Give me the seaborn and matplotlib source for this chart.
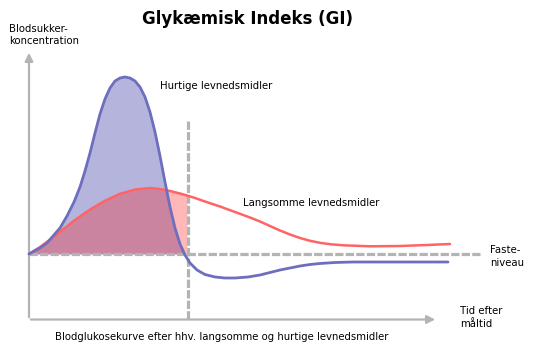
import matplotlib.pyplot as plt
import numpy as np
import seaborn as sns
import pandas as pd

# time after meal (px from y axis) and blood sugar relative to fasting level
base_x = 29
base_y = 254

hurtig_x = [29, 40, 47, 53, 60, 67, 74, 80, 85, 90, 95, 100, 105, 110, 115, 120,
            125, 130, 135, 140, 145, 150, 155, 160, 165, 170, 175, 180, 185, 190,
            197, 205, 215, 225, 235, 248, 260, 270, 280, 290, 300, 310, 320, 335, 353, 393, 448]
hurtig_py = [254, 248, 243, 236, 228, 216, 202, 187, 171, 153, 133, 114, 99, 88, 81, 78,
             77, 78, 81, 87, 97, 112, 132, 156, 182, 207, 228, 244, 255, 263,
             270, 274.5, 277, 278, 278, 277, 275, 272.5, 270, 268, 266, 264.5, 263.5, 262.5, 262, 262, 262]

langsom_x = [29, 40, 53, 63, 73, 83, 93, 105, 120, 135, 150, 160, 170, 180, 187, 195,
             205, 220, 235, 250, 260, 270, 280, 290, 300, 310, 320, 330, 343, 370, 400, 427, 450]
langsom_py = [254, 247, 237.5, 229.5, 221.5, 214.3, 207.8, 200.8, 193.8, 189.6, 188, 189, 191, 193.5,
              195.5, 198, 201.5, 206.5, 212, 217.5, 221.5, 226, 230.5, 234.5, 238, 240.8, 242.8,
              244.2, 245.3, 246.3, 246, 245, 244]

df_h = pd.DataFrame({"tid": np.array(hurtig_x) - base_x, "blodsukker": base_y - np.array(hurtig_py)})
df_l = pd.DataFrame({"tid": np.array(langsom_x) - base_x, "blodsukker": base_y - np.array(langsom_py)})

skaering = 187.5 - base_x  # vertical dashed line

sns.set_style("white")
plt.rcParams['font.family'] = ['DejaVu Sans']

fig = plt.figure(figsize=(5.4, 3.59), dpi=100)
ax = fig.add_axes([0, 0, 1, 1])

grey = '#b4b4b4'

# fills
hx = df_h["tid"].values
hy = df_h["blodsukker"].values
ax.fill_between(hx, 0, hy, where=hy >= 0, interpolate=True, color='#b4b4dc', lw=0, zorder=1)
lx = df_l["tid"].values
ly = df_l["blodsukker"].values
ax.fill_between(lx, 0, ly, where=lx <= skaering + 0.5, color='#ff1616', alpha=0.3, lw=0, zorder=2)

# axes with arrows
ax.annotate('', xy=(0, base_y - 50), xytext=(0, base_y - 320),
            arrowprops=dict(arrowstyle='-|>', color=grey, lw=1.6, mutation_scale=12), zorder=3)
ax.annotate('', xy=(438 - base_x, base_y - 319.5), xytext=(-1, base_y - 319.5),
            arrowprops=dict(arrowstyle='-|>', color=grey, lw=1.6, mutation_scale=12), zorder=3)

# fasting level + vertical marker
ax.plot([0, 480 - base_x], [0, 0], color=grey, lw=2.3, ls=(0, (2.6, 0.7)), zorder=3)
ax.plot([skaering, skaering], [base_y - 121, base_y - 319], color=grey, lw=2.3,
        ls=(0, (2.6, 0.7)), zorder=3)

sns.lineplot(data=df_l, x="tid", y="blodsukker", color='#ff6464', lw=1.8, ax=ax,
             sort=False, estimator=None, zorder=4, solid_joinstyle='round')
sns.lineplot(data=df_h, x="tid", y="blodsukker", color='#6e6ebe', lw=2.0, ax=ax,
             sort=False, estimator=None, zorder=5, solid_joinstyle='round')
ax.set_xlim(-base_x, 540 - base_x)
ax.set_ylim(base_y - 359, base_y)
ax.axis('off')

def txt(px, py, s, **kw):
    ax.text(px - base_x, base_y - py, s, color='black', **kw)

txt(248, 19, "Glykæmisk Indeks (GI)", ha='center', va='center', fontsize=12, fontweight='bold')
txt(9, 35, "Blodsukker-\nkoncentration", ha='left', va='center', fontsize=7.3, linespacing=1.25)
txt(160, 86, "Hurtige levnedsmidler", ha='left', va='center', fontsize=7.3)
txt(243, 203, "Langsomme levnedsmidler", ha='left', va='center', fontsize=7.3)
txt(490, 256.5, "Faste-\nniveau", ha='left', va='center', fontsize=7.3, linespacing=1.45)
txt(460, 317.5, "Tid efter\nmåltid", ha='left', va='center', fontsize=7.3, linespacing=1.3)
txt(222, 337, "Blodglukosekurve efter hhv. langsomme og hurtige levnedsmidler",
    ha='center', va='center', fontsize=7.3)

plt.savefig("out.png", dpi=100)
